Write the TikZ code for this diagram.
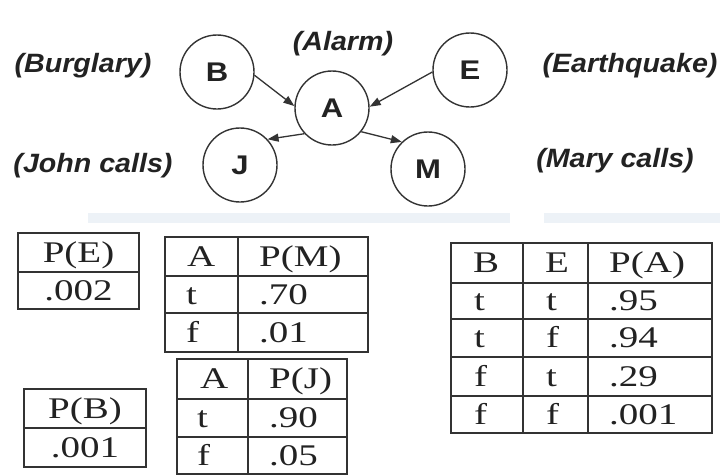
\documentclass[tikz,border=0pt]{standalone}
\usepackage{fontspec}
\setmainfont{Liberation Serif}
\newfontfamily\tabfont[FakeStretch=1.3]{Liberation Serif}
\newfontfamily\letfont[FakeStretch=1.15]{Liberation Sans}
\newfontfamily\labfont[FakeStretch=1.08]{Liberation Sans}
\usetikzlibrary{arrows.meta}
\definecolor{ink}{HTML}{222222}
\definecolor{linec}{HTML}{333333}
\definecolor{barc}{HTML}{EDF2F7}
\begin{document}
\begin{tikzpicture}[x=1pt,y=-1pt,
  var/.style={circle,draw=linec,line width=1.4pt,minimum size=74pt,inner sep=0pt,
    font=\letfont\bfseries\fontsize{27}{27}\selectfont,text=ink},
  lab/.style={anchor=base,inner sep=0pt,
    font=\labfont\bfseries\itshape\fontsize{26.5}{26.5}\selectfont,text=ink},
  link/.style={draw=linec,line width=1.3pt,-{Triangle[length=11pt,width=8pt]}},
  cell/.style={anchor=base west,inner sep=0pt,font=\tabfont\fontsize{30}{30}\selectfont,text=ink},
  cellc/.style={cell,anchor=base},
  tabline/.style={draw=linec,line width=1.4pt}]
\useasboundingbox (0,0) rectangle (720,475);

% faint bars
\fill[barc] (88,213) rectangle (510,223);
\fill[barc] (544,213) rectangle (720,223);

% network
\node[var] (B) at (217,72) {B};
\node[var] (A) at (332,108) {A};
\node[var] (E) at (470,70) {E};
\node[var] (J) at (240,165) {J};
\node[var] (M) at (428,169) {M};

\draw[link] (B.355) -- (A.177);
\draw[link] (E.183) -- (A.2);
\draw[link] (A.223) -- (J.43);
\draw[link] (A.321) -- (M.134);

\node[lab] (lB) at (83,72) {(Burglary)};
\node[lab] (lA) at (343,50) {(Alarm)};
\node[lab] (lE) at (630,72) {(Earthquake)};
\node[lab] (lJ) at (93,172) {(John calls)};
\node[lab] (lM) at (615,167) {(Mary calls)};

% P(E)
\draw[tabline] (18,233) rectangle (139,309);
\draw[tabline] (18,272) -- (139,272);
\node[cellc] (pe1) at (78.5,262) {P(E)};
\node[cellc] (pe2) at (78.5,300) {.002};

% P(B)
\draw[tabline] (24,389) rectangle (146,467);
\draw[tabline] (24,428) -- (146,428);
\node[cellc] (pb1) at (85,418) {P(B)};
\node[cellc] (pb2) at (85,457) {.001};

% P(M)
\draw[tabline] (165,237) rectangle (368,352);
\draw[tabline] (238,237) -- (238,352);
\draw[tabline] (165,276) -- (368,276);
\draw[tabline] (165,313) -- (368,313);
\node[cell] (pm11) at (187,266) {A};
\node[cell] (pm12) at (259,266) {P(M)};
\node[cell] (pm21) at (186,304) {t};
\node[cell] (pm22) at (259,304) {.70};
\node[cell] (pm31) at (186,342) {f};
\node[cell] (pm32) at (259,342) {.01};

% P(J)
\draw[tabline] (177,359) rectangle (347,474);
\draw[tabline] (248,359) -- (248,474);
\draw[tabline] (177,399) -- (347,399);
\draw[tabline] (177,437) -- (347,437);
\node[cell] (pj11) at (200,388.5) {A};
\node[cell] (pj12) at (269,388.5) {P(J)};
\node[cell] (pj21) at (197,427.5) {t};
\node[cell] (pj22) at (269,427.5) {.90};
\node[cell] (pj31) at (197,465) {f};
\node[cell] (pj32) at (269,465) {.05};

% P(A)
\draw[tabline] (451,243) rectangle (712,433);
\draw[tabline] (523,243) -- (523,433);
\draw[tabline] (588,243) -- (588,433);
\foreach \yy in {283,319,357,396} \draw[tabline] (451,\yy) -- (712,\yy);
\node[cell] (pa11) at (473,272.5) {B};
\node[cell] (pa12) at (545,272.5) {E};
\node[cell] (pa13) at (609,272.5) {P(A)};
\node[cell] (pa21) at (474,310.5) {t};
\node[cell] (pa22) at (546,310.5) {t};
\node[cell] (pa23) at (609,310.5) {.95};
\node[cell] (pa31) at (474,347.5) {t};
\node[cell] (pa32) at (546,347.5) {f};
\node[cell] (pa33) at (609,347.5) {.94};
\node[cell] (pa41) at (474,386) {f};
\node[cell] (pa42) at (546,386) {t};
\node[cell] (pa43) at (609,386) {.29};
\node[cell] (pa51) at (474,424) {f};
\node[cell] (pa52) at (546,424) {f};
\node[cell] (pa53) at (609,424) {.001};
\end{tikzpicture}
\end{document}
